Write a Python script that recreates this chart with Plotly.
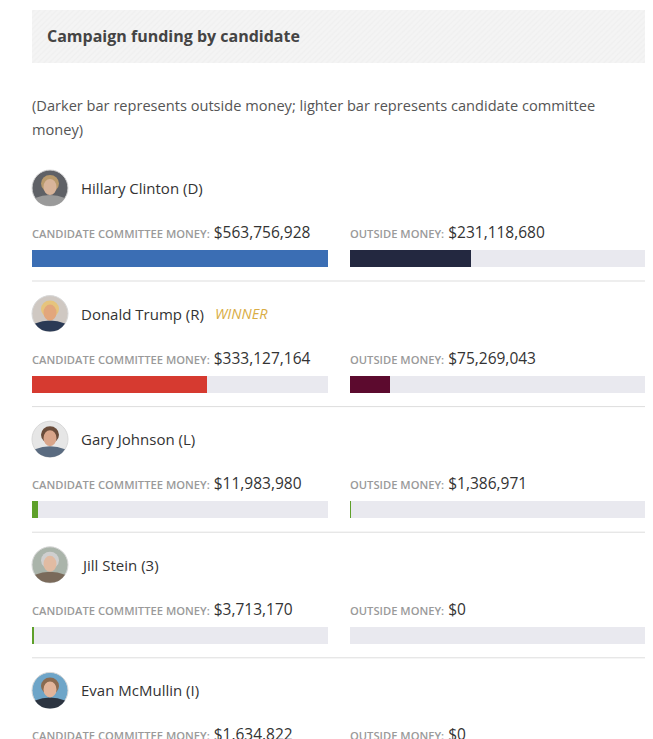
import plotly.graph_objects as go

# === Data ===
candidates = ["Hillary Clinton (D)", "Donald Trump (R)", "Gary Johnson (L)",
              "Jill Stein (3)", "Evan McMullin (I)"]
committee_money = [563756928, 333127164, 11983980, 3713170, 1634822]
outside_money = [231118680, 75269043, 1386971, 0, 0]
winner = [False, True, False, False, False]

committee_colors = ["#3b6eb4", "#d63a30", "#5ea02a", "#5ea02a", "#5ea02a"]
outside_colors = ["#232840", "#5c0a2e", "#5ea02a", "#5ea02a", "#5ea02a"]

# avatar stand-ins: (background, face, hair, clothes)
avatar_colors = [
    ("#5f6166", "#d8b49a", "#b99a6c", "#9a9a9a"),
    ("#cfc8c2", "#e2a67c", "#e6c47c", "#2b3a55"),
    ("#e6e6e6", "#d9a58a", "#6a4c3a", "#5a6b80"),
    ("#aab4aa", "#e1bba2", "#cfcfcf", "#7a6a5a"),
    ("#6ea5c8", "#e2b49a", "#8a6a50", "#2c3440"),
]

TITLE = "Campaign funding by candidate"
SUBTITLE = ["(Darker bar represents outside money; lighter bar represents candidate committee",
            "money)"]

W, H = 653, 739
PAD = 8  # page body margin in the browser
ROW0, STEP = 188, 125.6
FONT = "Open Sans"
TRACK = "#e9e9ef"
max_val = max(committee_money)

fig = go.Figure()

row_y = [ROW0 + STEP * i for i in range(len(candidates))]
bar_y = [y + 70.5 for y in row_y]

# background tracks + value bars
for axis, values, colors in [("x", committee_money, committee_colors),
                             ("x2", outside_money, outside_colors)]:
    fig.add_trace(go.Bar(x=[max_val] * len(values), y=bar_y, orientation="h",
                         width=17, marker=dict(color=TRACK, line_width=0),
                         xaxis=axis, yaxis="y", hoverinfo="skip"))
    fig.add_trace(go.Bar(x=values, y=bar_y, orientation="h", width=17,
                         marker=dict(color=colors, line_width=0),
                         xaxis=axis, yaxis="y", hoverinfo="skip"))

# header box with fine hatch
fig.add_trace(go.Scatter(x=[32, 648, 648, 32, 32], y=[10, 10, 63, 63, 10],
                         fill="toself", mode="lines", line_width=0,
                         fillpattern=dict(shape="/", bgcolor="#f4f4f4", fgcolor="#e9e9e9",
                                          size=4, solidity=0.3),
                         xaxis="x3", yaxis="y", hoverinfo="skip"))

shapes = []
annotations = [
    dict(x=45, y=36, text=f"<b>{TITLE}</b>", font=dict(size=16, color="#444")),
    dict(x=30, y=105, text=SUBTITLE[0], font=dict(size=14.6, color="#555")),
    dict(x=30, y=129, text=SUBTITLE[1], font=dict(size=14.6, color="#555")),
]

for i, name in enumerate(candidates):
    cy = row_y[i]
    cx = 50
    bg, face, hair, cloth = avatar_colors[i]
    shapes.append(dict(type="circle", xref="x3", yref="y", x0=cx - 18, x1=cx + 18,
                       y0=cy - 18, y1=cy + 18, fillcolor=bg, line=dict(color="#d8d8d8", width=1)))
    shapes.append(dict(type="path", xref="x3", yref="y", fillcolor=cloth, line_width=0,
                       path=f"M {cx-15},{cy+10} Q {cx},{cy+4} {cx+15},{cy+10} "
                            f"Q {cx+10},{cy+18} {cx},{cy+18} Q {cx-10},{cy+18} {cx-15},{cy+10} Z"))
    shapes.append(dict(type="circle", xref="x3", yref="y", x0=cx - 9, x1=cx + 9,
                       y0=cy - 13, y1=cy + 4, fillcolor=hair, line_width=0))
    shapes.append(dict(type="circle", xref="x3", yref="y", x0=cx - 6.5, x1=cx + 6.5,
                       y0=cy - 9, y1=cy + 7, fillcolor=face, line_width=0))

    annotations.append(dict(x=79, y=cy, text=name, font=dict(size=15, color="#333")))
    if winner[i]:
        annotations.append(dict(x=213, y=cy, text="<i>WINNER</i>",
                                font=dict(size=14.5, color="#d9ad45")))

    ly = cy + 44
    label = "<span style='font-size:11.2px;font-weight:600;fill:#9a9a9a'>{}</span> ${:,}"
    annotations.append(dict(x=30, y=ly, text=label.format("CANDIDATE COMMITTEE MONEY:",
                                                           committee_money[i]),
                            font=dict(size=15.5, color="#333")))
    annotations.append(dict(x=348, y=ly, text=label.format("OUTSIDE MONEY:", outside_money[i]),
                            font=dict(size=15.5, color="#333")))

    sy = cy + 93
    shapes.append(dict(type="line", xref="x3", yref="y", x0=32, x1=647, y0=sy, y1=sy,
                       line=dict(color="#dddddd", width=1)))

for a in annotations:
    a.update(xref="x3", yref="y", xanchor="left", yanchor="middle", showarrow=False)
    a["font"]["family"] = FONT

hidden = dict(showgrid=False, zeroline=False, showticklabels=False, ticks="",
              fixedrange=True)
fig.update_layout(
    width=W, height=H, margin=dict(l=0, r=0, t=0, b=0),
    paper_bgcolor="white", plot_bgcolor="rgba(0,0,0,0)",
    showlegend=False, barmode="overlay", bargap=0,
    font=dict(family=FONT),
    xaxis=dict(domain=[(32 - PAD) / W, (328 - PAD) / W], range=[0, max_val],
               anchor="y", **hidden),
    xaxis2=dict(domain=[(350 - PAD) / W, (646 - PAD) / W], range=[0, max_val],
                anchor="y", **hidden),
    xaxis3=dict(domain=[0, 1], range=[PAD, W + PAD], anchor="y", **hidden),
    yaxis=dict(domain=[0, 1], range=[H + PAD, PAD], **hidden),
    shapes=shapes, annotations=annotations,
)

fig.write_html("out.html")
